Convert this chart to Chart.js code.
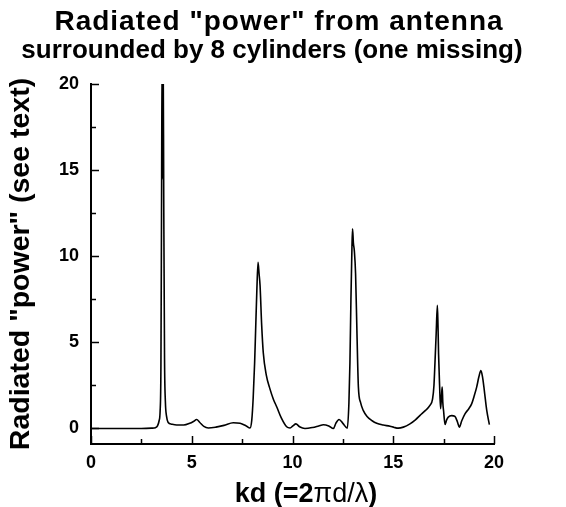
<!DOCTYPE html>
<html>
<head>
<meta charset="utf-8">
<script src="https://cdn.jsdelivr.net/npm/chart.js@4.4.1/dist/chart.umd.min.js"></script>
<style>
  html, body { margin: 0; padding: 0; background: #fff; }
</style>
</head>
<body>
<canvas id="grafico" width="566" height="507"></canvas>
<script>
//-------------------------- Dados --------------------------
const kd = [
  0, 0.5, 1, 1.5, 2, 2.5, 3, 3.2, 3.3, 3.38,
  3.43, 3.47, 3.5, 3.53, 3.56, 3.58, 3.61, 3.65, 3.69, 3.75,
  3.83, 4.0, 4.25, 4.6, 4.9, 5.1, 5.24, 5.4, 5.6, 5.82,
  6.2, 6.6, 7.06, 7.4, 7.7, 7.89, 7.98, 8.05, 8.12, 8.17,
  8.23, 8.29, 8.34, 8.39, 8.47, 8.55, 8.7, 8.88, 9.05, 9.22,
  9.45, 9.71, 9.88, 10.02, 10.17, 10.35, 10.62, 11.0, 11.3, 11.53,
  11.8, 12.03, 12.15, 12.31, 12.5, 12.72, 12.8, 12.85, 12.9, 12.95,
  12.98, 13.02, 13.07, 13.13, 13.2, 13.27, 13.38, 13.51, 13.7, 13.95,
  14.18, 14.5, 14.84, 15.05, 15.25, 15.5, 15.83, 16.1, 16.33, 16.6,
  16.82, 16.95, 17.02, 17.07, 17.13, 17.19, 17.22, 17.25, 17.3, 17.35,
  17.4, 17.43, 17.46, 17.5, 17.57, 17.65, 17.73, 17.9, 18.06, 18.18,
  18.28, 18.4, 18.56, 18.75, 18.89, 19.02, 19.14, 19.25, 19.35, 19.43,
  19.5, 19.57, 19.64, 19.77
];
const potencia = [
  0, 0, 0, 0, 0, 0, 0.02, 0.05, 0.15, 0.45,
  1.0, 3.6, 12.5, 22, 14.5, 22, 13.3, 4, 1.6, 0.7,
  0.35, 0.25, 0.2, 0.2, 0.3, 0.42, 0.52, 0.35, 0.12, 0.03,
  0.08, 0.18, 0.33, 0.3, 0.15, 0.03, 0.5, 1.8, 3.8, 5.7,
  8.0, 9.65, 9.0, 8.3, 6.0, 4.4, 3.1, 2.3, 1.7, 1.25,
  0.6, 0.1, 0.03, 0.15, 0.27, 0.1, 0.0, 0.06, 0.15, 0.22,
  0.15, 0.0, 0.3, 0.52, 0.3, 0.02, 1.5, 3.8, 7.5, 10.5,
  11.6, 10.8, 10.3, 9.0, 5.5, 2.4, 1.5, 1.05, 0.7, 0.45,
  0.3, 0.2, 0.13, 0.06, 0.02, 0.08, 0.27, 0.5, 0.76, 1.05,
  1.34, 1.7, 2.5, 3.8, 5.5, 7.15, 6.0, 4.3, 2.5, 1.15,
  2.0, 2.4, 1.5, 1.0, 0.23, 0.5, 0.66, 0.75, 0.7, 0.4,
  0.08, 0.45, 0.85, 1.15, 1.43, 1.9, 2.4, 3.0, 3.37, 3.0,
  2.4, 1.7, 1.05, 0.23
];

const xTicks = [0, 5, 10, 15, 20];
const xMinor = [2.5, 7.5, 12.5, 17.5];
const yTicks = [0, 5, 10, 15, 20];
const yMinor = [2.5, 7.5, 12.5, 17.5];

const titulo = ['Radiated "power" from antenna', 'surrounded by 8 cylinders (one missing)'];
const tituloY = 'Radiated "power" (see text)';
const tituloX = [
  ['kd (=2', 'bold'],
  ['\u03c0', 'normal'],
  ['d/\u03bb', 'normal'],
  [')', 'bold']
];

const FONTE = '"Liberation Sans", Arial, Helvetica, sans-serif';

//-------------------------- Plugin: marcas e textos --------------------------
const marcas = {
  id: 'marcas',
  afterDraw(chart) {
    const ctx = chart.ctx;
    const xs = chart.scales.x;
    const ys = chart.scales.y;
    const area = chart.chartArea;

    ctx.save();
    ctx.strokeStyle = '#000';
    ctx.lineWidth = 1.5;
    ctx.beginPath();
    yTicks.forEach((v) => {
      const y = Math.round(ys.getPixelForValue(v)) + 0.5;
      ctx.moveTo(area.left, y);
      ctx.lineTo(area.left + 8, y);
    });
    yMinor.forEach((v) => {
      const y = Math.round(ys.getPixelForValue(v)) + 0.5;
      ctx.moveTo(area.left, y);
      ctx.lineTo(area.left + 5, y);
    });
    xTicks.forEach((v) => {
      const x = Math.round(xs.getPixelForValue(v)) + 0.5;
      ctx.moveTo(x, area.bottom);
      ctx.lineTo(x, area.bottom - 8);
    });
    xMinor.forEach((v) => {
      const x = Math.round(xs.getPixelForValue(v)) + 0.5;
      ctx.moveTo(x, area.bottom);
      ctx.lineTo(x, area.bottom - 5);
    });
    ctx.stroke();

    // titulo principal
    ctx.fillStyle = '#000';
    ctx.textAlign = 'center';
    ctx.textBaseline = 'alphabetic';
    ctx.font = 'bold 28px ' + FONTE;
    ctx.letterSpacing = '1px';
    ctx.fillText(titulo[0], 279, 30);
    ctx.letterSpacing = '0px';
    ctx.font = 'bold 26px ' + FONTE;
    ctx.fillText(titulo[1], 272, 58);

    // titulo do eixo x (pesos misturados)
    let largura = 0;
    tituloX.forEach(([t, peso]) => {
      ctx.font = peso + ' 27px ' + FONTE;
      largura += ctx.measureText(t).width;
    });
    let x = 306 - largura / 2;
    ctx.textAlign = 'left';
    tituloX.forEach(([t, peso]) => {
      ctx.font = peso + ' 27px ' + FONTE;
      ctx.fillText(t, x, 502);
      x += ctx.measureText(t).width;
    });
    ctx.restore();
  }
};

//-------------------------- Grafico --------------------------
const fonteTicks = { family: FONTE, size: 18, weight: 'bold' };

new Chart(document.getElementById('grafico'), {
  type: 'line',
  data: {
    datasets: [
      {
        data: kd.map((k, i) => ({ x: k, y: potencia[i] })),
        borderColor: '#000',
        borderWidth: 1.6,
        pointRadius: 0,
        cubicInterpolationMode: 'monotone',
        fill: false
      }
    ]
  },
  options: {
    responsive: false,
    animation: false,
    devicePixelRatio: 1,
    events: [],
    layout: { padding: { top: 84, right: 72, bottom: 0, left: 0 } },
    plugins: {
      legend: { display: false },
      tooltip: { enabled: false },
      title: { display: false }
    },
    scales: {
      x: {
        type: 'linear',
        min: 0,
        max: 20,
        afterBuildTicks: (s) => { s.ticks = xTicks.map((v) => ({ value: v })); },
        afterFit: (s) => { s.height = 63; },
        grid: { display: false },
        border: { display: true, color: '#000', width: 2 },
        ticks: { color: '#000', padding: 0, autoSkip: false, maxRotation: 0, font: fonteTicks }
      },
      y: {
        type: 'linear',
        min: -0.9,
        max: 20,
        afterBuildTicks: (s) => { s.ticks = yTicks.map((v) => ({ value: v })); },
        afterFit: (s) => { s.width = 91; },
        grid: { display: false },
        border: { display: true, color: '#000', width: 2 },
        ticks: { color: '#000', padding: 4, font: fonteTicks },
        title: {
          display: true,
          text: tituloY,
          color: '#000',
          font: { family: FONTE, size: 28.5, weight: 'bold' },
          padding: { top: 4, bottom: 0 }
        }
      }
    }
  },
  plugins: [marcas]
});
</script>
</body>
</html>
